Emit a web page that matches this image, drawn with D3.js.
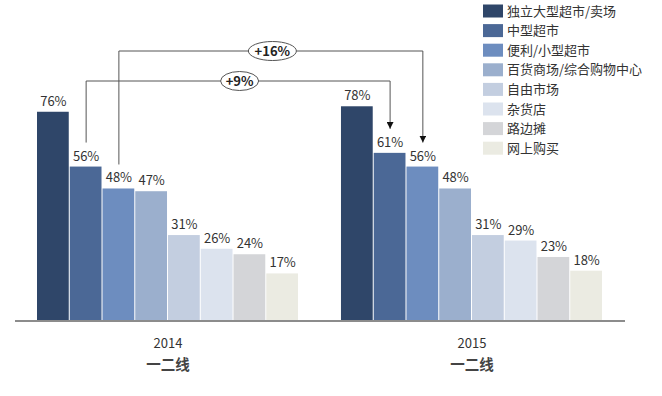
<!DOCTYPE html>
<html>
<head>
<meta charset="utf-8">
<script src="https://cdn.jsdelivr.net/npm/d3@7"></script>
<style>
  body { margin: 0; background: #fff; }
  text { font-family: "Noto Sans CJK SC", "Noto Sans", sans-serif; fill: #333; }
</style>
</head>
<body>
<div id="chart"></div>
<script>
// data
var years = ["2014", "2015"];
var tierLabel = "一二线";
var channels = ["独立大型超市/卖场", "中型超市", "便利/小型超市", "百货商场/综合购物中心",
                "自由市场", "杂货店", "路边摊", "网上购买"];
var values2014 = [76, 56, 48, 47, 31, 26, 24, 17];
var values2015 = [78, 61, 56, 48, 31, 29, 23, 18];
var colors = ["#2f4669", "#4b6896", "#6d8dbf", "#9bafcd", "#c3cee0", "#dce3ee", "#d4d5d8", "#ebebe2"];
// growth callouts: channel index, label
var callouts = [
    {idx: 2, label: "+16%", level: 51},
    {idx: 1, label: "+9%",  level: 81}
];

var width = 662, height = 396;

var svg = d3.select("#chart").append("svg")
    .attr("width", width)
    .attr("height", height);

var valuesByYear = {"2014": values2014, "2015": values2015};

// scales
var x0 = d3.scaleBand()
    .domain(years)
    .range([37, 603])
    .paddingInner(0.138)
    .paddingOuter(0);

var x1 = d3.scaleBand()
    .domain(d3.range(channels.length))
    .range([0, x0.bandwidth()])
    .padding(0);

var y = d3.scaleLinear()
    .domain([0, 100])
    .range([320, 46]);

// bars
var groups = svg.selectAll(".group")
    .data(years)
  .enter().append("g")
    .attr("class", "group")
    .attr("transform", function(d) { return "translate(" + x0(d) + ",0)"; });

groups.selectAll("rect")
    .data(function(yr) { return valuesByYear[yr].map(function(v, i) { return {v: v, i: i}; }); })
  .enter().append("rect")
    .attr("x", function(d) { return x1(d.i); })
    .attr("y", function(d) { return y(d.v); })
    .attr("width", x1.bandwidth() - 1)
    .attr("height", function(d) { return y(0) - y(d.v); })
    .style("fill", function(d) { return colors[d.i]; });

groups.selectAll(".val")
    .data(function(yr) { return valuesByYear[yr].map(function(v, i) { return {v: v, i: i}; }); })
  .enter().append("text")
    .attr("class", "val")
    .attr("x", function(d) { return x1(d.i) + x1.bandwidth() / 2; })
    .attr("y", function(d) { return y(d.v) - 6; })
    .attr("text-anchor", "middle")
    .style("font-size", "13px")
    .text(function(d) { return d.v + "%"; });

// baseline
svg.append("line")
    .attr("x1", 15).attr("x2", 625)
    .attr("y1", 321).attr("y2", 321)
    .style("stroke", "#666")
    .style("stroke-width", 1.5);

// category labels
groups.append("text")
    .attr("x", x0.bandwidth() / 2)
    .attr("y", 348)
    .attr("text-anchor", "middle")
    .style("font-size", "13px")
    .text(function(d) { return d; });

groups.append("text")
    .attr("x", x0.bandwidth() / 2)
    .attr("y", 370)
    .attr("text-anchor", "middle")
    .style("font-size", "14.5px")
    .style("font-weight", "bold")
    .style("fill", "#444")
    .text(tierLabel);

// arrow marker
svg.append("defs").append("marker")
    .attr("id", "arrow")
    .attr("viewBox", "0 0 10 10")
    .attr("refX", 10).attr("refY", 5)
    .attr("markerWidth", 7).attr("markerHeight", 7)
    .attr("orient", "auto")
  .append("path")
    .attr("d", "M0,0L10,5L0,10Z")
    .style("fill", "#111");

// growth callouts
callouts.forEach(function(c) {
    var xa = x0("2014") + x1(c.idx) + x1.bandwidth() / 2;
    var xb = x0("2015") + x1(c.idx) + x1.bandwidth() / 2;
    var ya = y(values2014[c.idx]) - 24;
    var yb = y(values2015[c.idx]) - 24;

    svg.append("path")
        .attr("d", "M" + xa + "," + ya + "V" + c.level + "H" + xb + "V" + yb)
        .style("fill", "none")
        .style("stroke", "#555")
        .style("stroke-width", 1)
        .attr("marker-end", "url(#arrow)");

    var rx = c.label.length > 3 ? 24 : 19;
    svg.append("ellipse")
        .attr("cx", (xa + xb) / 2 + 1.5)
        .attr("cy", c.level)
        .attr("rx", rx).attr("ry", 9.5)
        .style("fill", "#fff")
        .style("stroke", "#555")
        .style("stroke-width", 1);

    svg.append("text")
        .attr("x", (xa + xb) / 2 + 1.5)
        .attr("y", c.level + 4.5)
        .attr("text-anchor", "middle")
        .style("font-size", "13px")
        .style("font-weight", "bold")
        .style("fill", "#222")
        .text(c.label);
});

// legend
var legend = svg.selectAll(".legend")
    .data(channels)
  .enter().append("g")
    .attr("class", "legend")
    .attr("transform", function(d, i) { return "translate(483," + (11 + i * 19.6) + ")"; });

legend.append("rect")
    .attr("x", 0).attr("y", -6.5)
    .attr("width", 20).attr("height", 13)
    .style("fill", function(d, i) { return colors[i]; });

legend.append("text")
    .attr("x", 24)
    .attr("y", 4.5)
    .style("font-size", "13px")
    .text(function(d) { return d; });
</script>
</body>
</html>
